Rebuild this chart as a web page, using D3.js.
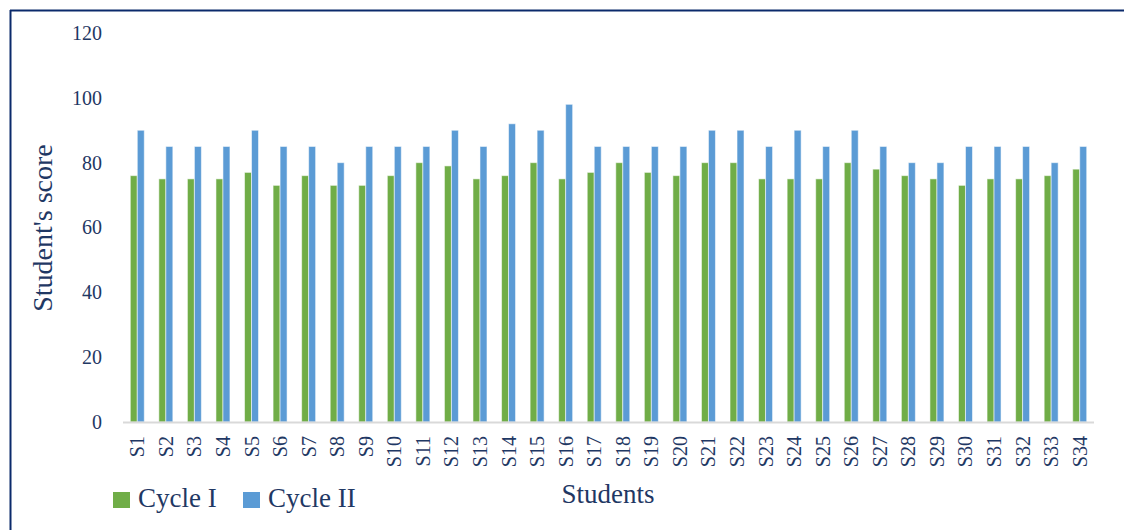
<!DOCTYPE html>
<html>
<head>
<meta charset="utf-8">
<script src="https://cdn.jsdelivr.net/npm/d3@7"></script>
<style>
  html, body { margin: 0; padding: 0; background: #fff; }
  svg { display: block; }
  text { font-family: "Liberation Serif", "DejaVu Serif", serif; fill: #1f3864; }
</style>
</head>
<body>
<svg id="chart" width="1124" height="530"></svg>
<script>
const students = ["S1","S2","S3","S4","S5","S6","S7","S8","S9","S10","S11","S12","S13","S14","S15","S16","S17","S18","S19","S20","S21","S22","S23","S24","S25","S26","S27","S28","S29","S30","S31","S32","S33","S34"];
const cycle1 = [76,75,75,75,77,73,76,73,73,76,80,79,75,76,80,75,77,80,77,76,80,80,75,75,75,80,78,76,75,73,75,75,76,78];
const cycle2 = [90,85,85,85,90,85,85,80,85,85,85,90,85,92,90,98,85,85,85,85,90,90,85,90,85,90,85,80,80,85,85,85,80,85];
const seriesNames = ["Cycle I", "Cycle II"];
const seriesColors = ["#70ad47", "#5b9bd5"];
const yTicks = [0, 20, 40, 60, 80, 100, 120];

(function () {
const svg = d3.select("#chart");

// frame (top and left edges visible)
svg.append("line").attr("x1", 10).attr("y1", 10.5).attr("x2", 1124).attr("y2", 10.5)
  .attr("stroke", "#0b2a6b").attr("stroke-width", 2);
svg.append("line").attr("x1", 10.5).attr("y1", 10).attr("x2", 10.5).attr("y2", 530)
  .attr("stroke", "#0b2a6b").attr("stroke-width", 2);

const pLeft = 123, pRight = 1094, pTop = 33, pBottom = 422;

const x0 = d3.scaleBand().domain(students).range([pLeft, pRight]).paddingInner(0.51).paddingOuter(0.255);
const x1 = d3.scaleBand().domain(seriesNames).range([0, x0.bandwidth()]);
const y = d3.scaleLinear().domain([0, 120]).range([pBottom, pTop]);

const data = students.map((s, i) => ({ s, vals: [cycle1[i], cycle2[i]] }));

const groups = svg.append("g").selectAll("g").data(data).join("g")
  .attr("transform", d => `translate(${x0(d.s)},0)`);
groups.selectAll("rect").data(d => d.vals.map((v, k) => ({ k, v }))).join("rect")
  .attr("x", d => x1(seriesNames[d.k]))
  .attr("y", d => y(d.v))
  .attr("width", x1.bandwidth())
  .attr("height", d => y(0) - y(d.v))
  .attr("fill", d => seriesColors[d.k])
  .attr("stroke", "#ffffff")
  .attr("stroke-opacity", 0.55)
  .attr("stroke-width", 1);

// x axis baseline
svg.append("line").attr("x1", pLeft).attr("x2", pRight).attr("y1", pBottom + 0.5).attr("y2", pBottom + 0.5)
  .attr("stroke", "#d9d9d9").attr("stroke-width", 2);

// y axis
const yAxis = d3.axisLeft(y).tickValues(yTicks).tickSize(0).tickPadding(0);
const gy = svg.append("g").attr("transform", `translate(102,0)`).call(yAxis);
gy.select(".domain").remove();
gy.selectAll("text").attr("font-size", 20).attr("font-family", '"Liberation Serif", serif').attr("fill", "#1f3864");

// x axis labels
const xAxis = d3.axisBottom(x0.copy().paddingInner(0).paddingOuter(0)).tickSize(0).tickPadding(0);
const gx = svg.append("g").attr("transform", `translate(0,${pBottom})`).call(xAxis);
gx.select(".domain").remove();
gx.selectAll("text")
  .attr("font-size", 20).attr("font-family", '"Liberation Serif", serif').attr("fill", "#1f3864")
  .attr("text-anchor", "end")
  .attr("transform", "rotate(-90)")
  .attr("x", -14).attr("y", 0).attr("dy", "0.35em");

// axis titles
svg.append("text").attr("x", 608).attr("y", 503).attr("text-anchor", "middle")
  .attr("font-size", 27).text("Students");
svg.append("text").attr("transform", "translate(52,228) rotate(-90)").attr("text-anchor", "middle")
  .attr("font-size", 28).text("Student's score");

// legend
const legendX = [113, 243];
seriesNames.forEach((n, i) => {
  svg.append("rect").attr("x", legendX[i]).attr("y", 492).attr("width", 17).attr("height", 16).attr("fill", seriesColors[i]);
  svg.append("text").attr("x", legendX[i] + 25).attr("y", 507).attr("font-size", 27).text(n);
});
})();
</script>
</body>
</html>
